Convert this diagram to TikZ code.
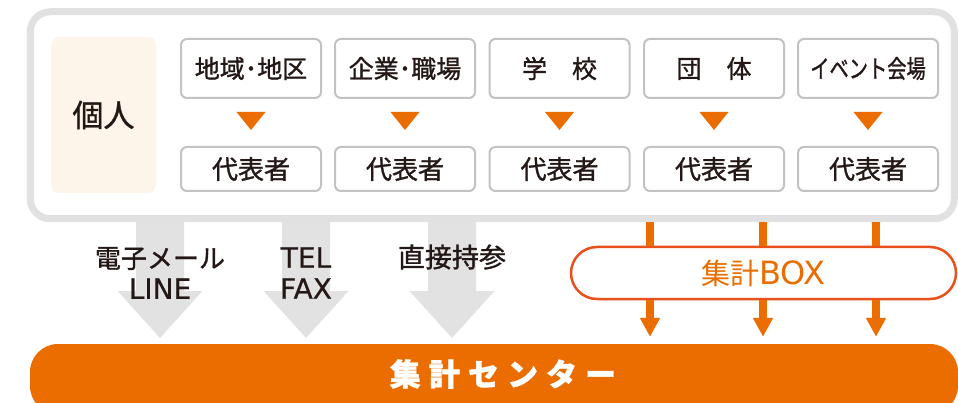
\documentclass[tikz,border=0pt]{standalone}
\usepackage{fontspec}
\setmainfont{Noto Sans CJK JP}
\newfontfamily\jp[FakeBold=1.2]{Noto Sans CJK JP}
\newfontfamily\jpthin{Noto Sans CJK JP}
\newfontfamily\lat[FakeBold=0.6]{DejaVu Sans}
\newfontfamily\latthin{DejaVu Sans}
\usetikzlibrary{arrows.meta}
\definecolor{framegray}{HTML}{E1E1E1}
\definecolor{boxgray}{HTML}{C2C2C2}
\definecolor{cream}{HTML}{FDF5E9}
\definecolor{mainorange}{HTML}{EB6D00}
\definecolor{pillred}{HTML}{E9501B}
\definecolor{ink}{HTML}{231815}
\definecolor{arrowgray}{HTML}{E2E2E2}
\tikzset{
  topbox/.style={draw=boxgray, line width=2pt, rounded corners=6pt, fill=white,
    minimum width=140pt, minimum height=59pt, inner sep=0pt, text=ink,
    font=\jp\fontsize{25}{27}\selectfont},
  repbox/.style={draw=boxgray, line width=2pt, rounded corners=6pt, fill=white,
    minimum width=140pt, minimum height=44pt, inner sep=0pt, text=ink,
    font=\jp\fontsize{26}{28}\selectfont},
  tri/.style={fill=mainorange},
  oshaft/.style={draw=mainorange, line width=8pt},
  blockarrow/.style={fill=arrowgray},
  lbl/.style={text=ink, font=\jp\fontsize{26}{31}\selectfont, align=center, inner sep=0pt},
}
\newcommand{\latbig}[1]{{\lat\fontsize{28}{31}\selectfont #1}}
\begin{document}
\begin{tikzpicture}[x=1pt,y=-1pt]
\useasboundingbox (0,0) rectangle (958,403);
% outer frame
\node[draw=framegray, line width=7pt, rounded corners=20pt, fill=white,
  minimum width=924pt, minimum height=207pt, inner sep=0pt] (frame) at (492.25,115.25) {};
% individual
\node[fill=cream, rounded corners=8pt, minimum width=105pt, minimum height=156pt,
  inner sep=0pt, text=ink, font=\jp\fontsize{31}{33}\selectfont] (kojin) at (103.5,115) {個人};
% top boxes
\node[topbox] (t1) at (251,68.5) {地域･地区};
\node[topbox] (t2) at (405,68.5) {企業･職場};
\node[topbox] (t3) at (559.5,68.5) {学　校};
\node[topbox] (t4) at (714,68.5) {団　体};
\node[topbox] (t5) at (868,68.5) {\scalebox{0.77}[1]{イベント会場}};
% representative boxes
\foreach \i/\x in {1/251,2/405,3/559.5,4/714,5/868}{
  \node[repbox] (r\i) at (\x,169) {代表者};
  \fill[tri] ([xshift=-14.5pt,yshift=-13pt]t\i.south) -- ++(29,0) -- ++(-14.5,18) -- cycle;
}
% gray block arrows
\foreach \c in {160,306,452}{
  \fill[blockarrow] (\c-24,222) -- (\c+24,222) -- (\c+24,291) -- (\c+42.5,291)
     -- (\c,338) -- (\c-42.5,291) -- (\c-24,291) -- cycle;
}
\node[lbl] (mail) at (160,273) {電子メール\\\latbig{LINE}};
\node[lbl] (tel) at (306,273) {\latbig{TEL}\\\latbig{FAX}};
\node[lbl, font=\jp\fontsize{27}{29}\selectfont] (direct) at (452,257) {直接持参};
% aggregation center bar
\node[fill=mainorange, rounded corners=28pt, minimum width=928pt, minimum height=70pt,
  inner sep=0pt] (center) at (494,379) {};
\node[text=white, font=\jp\bfseries\fontsize{31}{33}\selectfont\addfontfeature{LetterSpace=26}]
  (centerlabel) at (503,374) {集計センター};
% BOX pill
\node[draw=pillred, line width=2.5pt, rounded corners=26pt, fill=white,
  minimum width=385pt, minimum height=52pt, inner sep=0pt, text=mainorange,
  font=\jpthin\fontsize{29}{30}\selectfont] (box) at (763.5,273) {集計{\latthin\fontsize{32}{30}\selectfont BOX}};
% orange arrows
\foreach \x [count=\k] in {650,763,876}{
  \coordinate (ox\k) at (\x,0);
  \draw[oshaft] (frame.south -| ox\k) -- (box.north -| ox\k);
  \draw[oshaft, -{Triangle[width=19pt,length=19pt]}, shorten >=-1pt] (box.south -| ox\k) -- ([yshift=8pt]center.north -| ox\k);
}
\end{tikzpicture}
\end{document}
